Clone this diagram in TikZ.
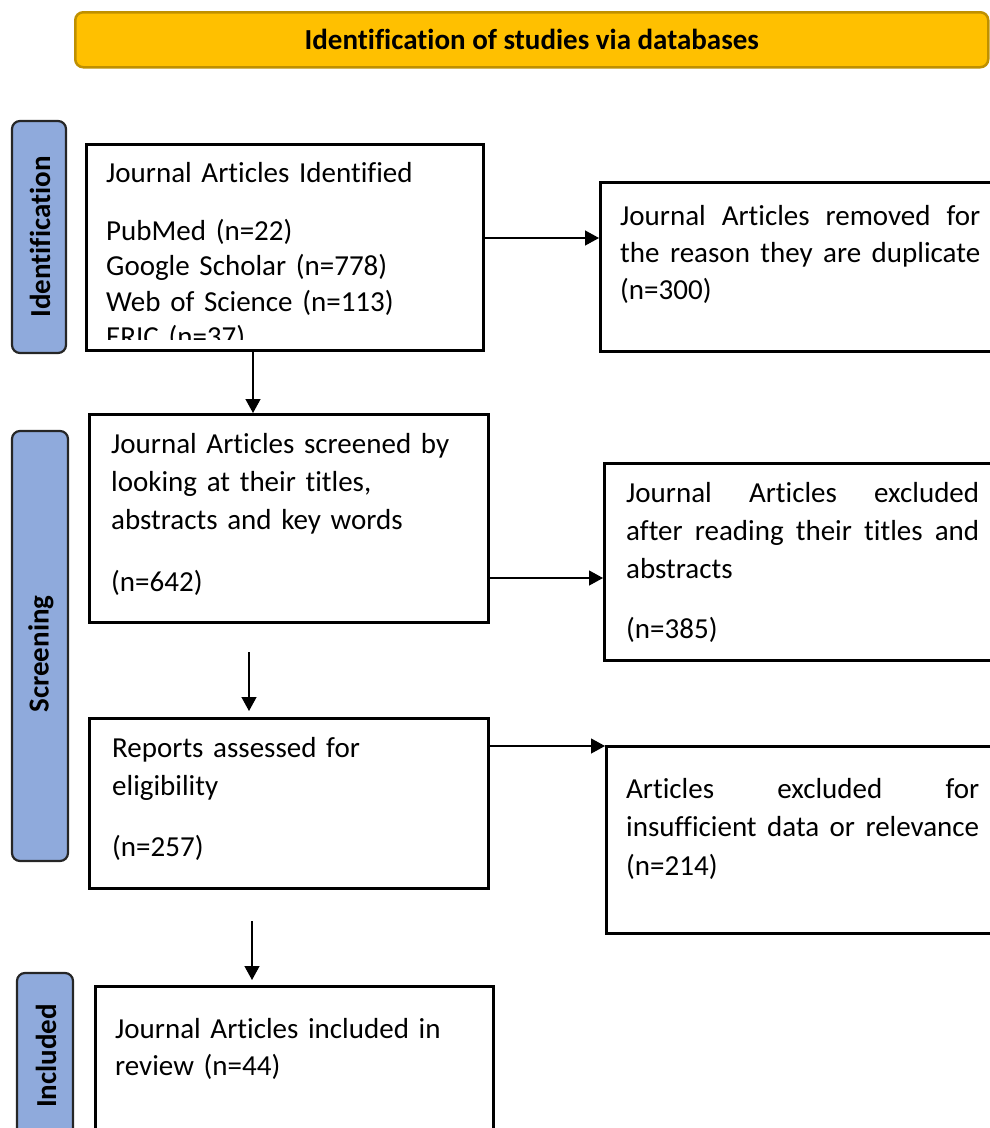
\documentclass[tikz,border=0pt]{standalone}
\usepackage{fontspec}
\setmainfont[Ligatures={NoCommon}]{Carlito}
\usetikzlibrary{arrows.meta,calc}
\definecolor{bannerfill}{HTML}{FFC000}
\definecolor{bannerdraw}{HTML}{BF9000}
\definecolor{sidefill}{HTML}{8FAADC}
\definecolor{sidedraw}{HTML}{262626}
\begin{document}
\begin{tikzpicture}[x=1pt,y=-1pt,
  box/.style={draw=black,line width=2.6pt,anchor=north west,inner sep=0pt},
  side/.style={draw=sidedraw,fill=sidefill,line width=2.2pt,rounded corners=8pt},
  sidetxt/.style={rotate=90,font=\fontsize{29}{35}\selectfont\bfseries,inner sep=0pt},
  txt/.style={anchor=base west,inner sep=0pt,font=\fontsize{29}{38}\selectfont},
  arr/.style={line width=1.3pt,-{Triangle[length=14pt,width=15pt]}}]
\useasboundingbox (0,0) rectangle (990,1128);
\begin{scope}
\clip (0,0) rectangle (990,1128);
% banner
\node[draw=bannerdraw,fill=bannerfill,line width=2.5pt,rounded corners=8pt,
  anchor=north west,minimum width=913pt,minimum height=55pt,inner sep=0pt,
  font=\fontsize{29}{35}\selectfont\bfseries] (banner) at (74,11)
  {Identification of studies via databases};
% side bars
\draw[side] (12,121) rectangle (66,353);
\node[sidetxt] (sidea) at (40,237) {Identification};
\draw[side] (12,431) rectangle (68,861);
\node[sidetxt] (sideb) at (41,654) {Screening};
\draw[side] (17,973) rectangle (73,1150);
\node[sidetxt] (sidec) at (46,1056) {Included};
% boxes
\node[box,minimum width=397pt,minimum height=206pt] (b1) at (85,143) {};
\node[box,minimum width=420pt,minimum height=169pt] (b2) at (599,181) {};
\node[box,minimum width=399pt,minimum height=208pt] (b3) at (88,413) {};
\node[box,minimum width=420pt,minimum height=197pt] (b4) at (603,462) {};
\node[box,minimum width=399pt,minimum height=170pt] (b5) at (88,717) {};
\node[box,minimum width=420pt,minimum height=187pt] (b6) at (605,745) {};
\node[box,minimum width=398pt,minimum height=180pt] (b7) at (94,985) {};
% texts
\begin{scope}
\clip (86,144) rectangle (481,339.5);
\node[txt,text width=370pt,align=left,font=\fontsize{29}{35.5}\selectfont] (t1) at (106,182)
  {Journal Articles Identified\\[22.5pt]PubMed (n=22)\\Google Scholar (n=778)\\Web of Science (n=113)\\ERIC (n=37)};
\end{scope}
\node[txt,text width=360pt,align=justify,font=\fontsize{29}{37}\selectfont] (t2) at (620,225)
  {Journal Articles removed for\linebreak the reason they are duplicate\linebreak (n=300)};
\node[txt,text width=370pt,align=left] (t3) at (111,453)
  {Journal Articles screened by\\looking at their titles,\\abstracts and key words\\[24pt](n=642)};
\node[txt,text width=353pt,align=justify] (t4) at (626,502)
  {Journal Articles excluded\linebreak after reading their titles and\linebreak abstracts\\[22pt](n=385)};
\node[txt,text width=370pt,align=left] (t5) at (112,757)
  {Reports assessed for\\eligibility\\[23pt](n=257)};
\node[txt,text width=353pt,align=justify,font=\fontsize{29}{38.5}\selectfont] (t6) at (626,798)
  {Articles excluded for\linebreak insufficient data or relevance\linebreak (n=214)};
\node[txt,text width=370pt,align=left,font=\fontsize{29}{37}\selectfont] (t7) at (115,1038)
  {Journal Articles included in\\review (n=44)};
% connectors
\coordinate (ya) at (0,238);
\coordinate (yb) at (0,578);
\coordinate (yc) at (0,746);
\coordinate (xa) at (253,0);
\coordinate (d2s) at (249,652);
\coordinate (d2e) at (249,711);
\coordinate (d3s) at (252,921);
\coordinate (d3e) at (252,980);
\draw[arr] (b1.east |- ya) -- (b2.west |- ya);
\draw[arr] (b1.south -| xa) -- (b3.north -| xa);
\draw[arr] (b3.east |- yb) -- (b4.west |- yb);
\draw[arr] (d2s) -- (d2e);
\draw[arr] (b5.east |- yc) -- (b6.west |- yc);
\draw[arr] (d3s) -- (d3e);
\end{scope}
\end{tikzpicture}
\end{document}
